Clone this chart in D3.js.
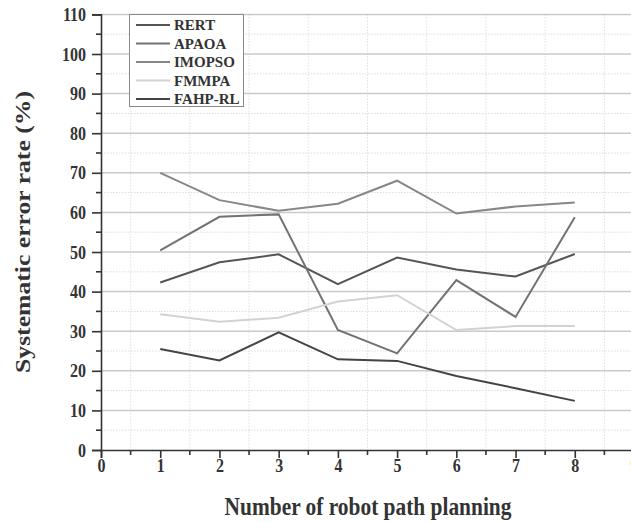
<!DOCTYPE html>
<html><head><meta charset="utf-8">
<script src="https://cdn.jsdelivr.net/npm/d3@7/dist/d3.min.js"></script>
<style>
html,body{margin:0;padding:0;background:#fff;}
text{font-family:"Liberation Serif","Times New Roman",serif;font-weight:bold;}
</style></head>
<body>
<svg id="chart" width="631" height="522"></svg>
<script>
const xValues = [1, 2, 3, 4, 5, 6, 7, 8];
const seriesNames = ["RERT", "APAOA", "IMOPSO", "FMMPA", "FAHP-RL"];
const rert   = [42.3, 47.4, 49.4, 41.9, 48.6, 45.6, 43.8, 49.5];
const apaoa  = [50.4, 58.9, 59.5, 30.3, 24.4, 42.9, 33.6, 58.8];
const imopso = [70.0, 63.1, 60.4, 62.2, 68.0, 59.7, 61.5, 62.5];
const fmmpa  = [34.3, 32.4, 33.4, 37.5, 39.1, 30.3, 31.3, 31.3];
const fahprl = [25.5, 22.6, 29.7, 22.9, 22.5, 18.7, 15.6, 12.4];
const seriesColors = ["#555555", "#727272", "#878787", "#d2d2d2", "#444444"];
const xTicks = [0, 1, 2, 3, 4, 5, 6, 7, 8, 9];
const yTicks = [0, 10, 20, 30, 40, 50, 60, 70, 80, 90, 100, 110];
const xTitle = "Number of robot path planning";
const yTitle = "Systematic error rate (%)";

const allSeries = [rert, apaoa, imopso, fmmpa, fahprl];
const svg = d3.select("#chart");
const pLeft = 101, pTop = 14.4, pBottom = 450, pRight = 634;
const stretch = 1.2;
const x = d3.scaleLinear().domain([0, 9]).range([pLeft, pRight]);
const y = d3.scaleLinear().domain([0, 110]).range([pBottom, pTop]);

// gridlines
const g = svg.append("g");
const yMinor = d3.range(5, 110, 10);
g.selectAll(".ymin").data(yMinor).enter().append("line")
  .attr("x1", pLeft).attr("x2", pRight).attr("y1", d => y(d)).attr("y2", d => y(d))
  .attr("stroke", "#dcdcdc").attr("stroke-width", 1).attr("stroke-dasharray", "1.5,1.5");
const xMinor = d3.range(0.5, 9, 1);
g.selectAll(".xmin").data(xMinor).enter().append("line")
  .attr("x1", d => x(d)).attr("x2", d => x(d)).attr("y1", pTop).attr("y2", pBottom)
  .attr("stroke", "#e0e0e0").attr("stroke-width", 1).attr("stroke-dasharray", "1.5,1.5");
g.selectAll(".ymaj").data(yTicks.slice(1)).enter().append("line")
  .attr("x1", pLeft).attr("x2", pRight).attr("y1", d => y(d)).attr("y2", d => y(d))
  .attr("stroke", "#cacaca").attr("stroke-width", 1.5);

// lines
const line = d3.line().x((d, i) => x(xValues[i])).y(d => y(d));
allSeries.forEach((s, i) => {
  svg.append("path").datum(s).attr("d", line).attr("fill", "none")
    .attr("stroke", seriesColors[i]).attr("stroke-width", 2);
});

// axes
const yAxis = d3.axisLeft(y).tickValues(yTicks).tickSize(9).tickPadding(6);
const yAx = svg.append("g").attr("transform", `translate(${pLeft},0)`).call(yAxis);
const xAxis = d3.axisBottom(x).tickValues(xTicks).tickSize(8).tickPadding(5);
const xAx = svg.append("g").attr("transform", `translate(0,${pBottom})`).call(xAxis);
[yAx, xAx].forEach(a => {
  a.select(".domain").attr("stroke", "#333").attr("stroke-width", 1.6);
  a.selectAll(".tick line").attr("stroke", "#333").attr("stroke-width", 1.6);
  a.selectAll("text").attr("font-size", 16).attr("fill", "#333")
    .attr("font-family", "Liberation Serif, serif").attr("font-weight", "bold")
    .attr("transform", `scale(1,${stretch})`);
});
xAx.selectAll("text").attr("y", 6.8);
// minor ticks
svg.append("g").selectAll("line").data(yMinor).enter().append("line")
  .attr("x1", pLeft - 5).attr("x2", pLeft).attr("y1", d => y(d)).attr("y2", d => y(d))
  .attr("stroke", "#333").attr("stroke-width", 1.6);
svg.append("g").selectAll("line").data(xMinor).enter().append("line")
  .attr("x1", d => x(d)).attr("x2", d => x(d)).attr("y1", pBottom).attr("y2", pBottom + 5)
  .attr("stroke", "#333").attr("stroke-width", 1.6);

// titles
svg.append("text").attr("transform", `translate(368,515) scale(1,${stretch})`).attr("text-anchor", "middle")
  .attr("font-size", 21.4).attr("fill", "#333").text(xTitle);
svg.append("text").attr("transform", `translate(30,232) rotate(-90) scale(${stretch},1)`).attr("text-anchor", "middle")
  .attr("font-size", 21.4).attr("fill", "#333").text(yTitle);

// legend
const lg = svg.append("g");
lg.append("rect").attr("x", 129.5).attr("y", 14.5).attr("width", 114).attr("height", 92)
  .attr("fill", "#fff").attr("stroke", "#8a8a8a").attr("stroke-width", 1);
seriesNames.forEach((n, i) => {
  const yy = 25 + i * 18.5;
  lg.append("line").attr("x1", 136).attr("x2", 170).attr("y1", yy).attr("y2", yy)
    .attr("stroke", seriesColors[i]).attr("stroke-width", 2);
  lg.append("text").attr("x", 174).attr("y", yy + 5)
    .attr("font-size", 15).attr("fill", "#333").text(n);
});
</script>
</body></html>
